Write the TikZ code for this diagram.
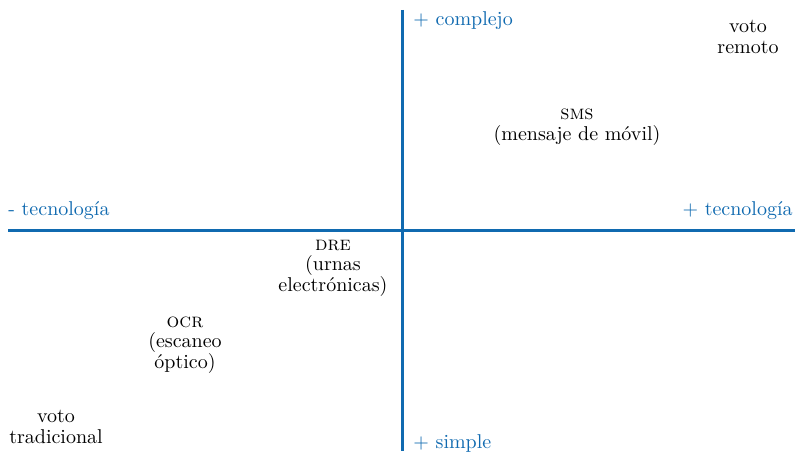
\documentclass[tikz,border=0pt]{standalone}
\usepackage{fontspec}
\definecolor{axisblue}{RGB}{16,106,176}
\begin{document}
\begin{tikzpicture}[
    x=0.5pt,
    y=-0.5pt,
    axis/.style={draw=axisblue, line width=1.5pt},
    pole/.style={
        text=axisblue,
        font=\fontsize{10}{10.5}\selectfont,
        inner sep=0pt
    },
    item/.style={
        align=center,
        font=\fontsize{10}{10.3}\selectfont,
        inner sep=0pt
    }
]
\useasboundingbox (0,0) rectangle (795,453);

% ejes
\coordinate (top) at (402,10);
\coordinate (bottom) at (402,451);
\coordinate (left) at (8,231);
\coordinate (right) at (795,231);
\draw[axis] (top) -- (bottom);
\draw[axis] (left) -- (right);

% polos
\node[pole, anchor=west] (complejo) at (413,21) {+ complejo};
\node[pole, anchor=west] (simple) at (413,443) {+ simple};
\node[pole, anchor=west] (menostec) at (8,211) {- tecnología};
\node[pole, anchor=east] (mastec) at (793,211) {+ tecnología};

% sistemas
\node[item] (remoto) at (748,37) {voto\\remoto};
\node[item] (sms) at (577,127) {\textsc{sms}\\(mensaje de móvil)};
\node[item] (dre) at (333,268) {\textsc{dre}\\(urnas\\electrónicas)};
\node[item] (ocr) at (185,345) {\textsc{ocr}\\(escaneo\\óptico)};
\node[item] (tradicional) at (56,427) {voto\\tradicional};

\end{tikzpicture}
\end{document}
